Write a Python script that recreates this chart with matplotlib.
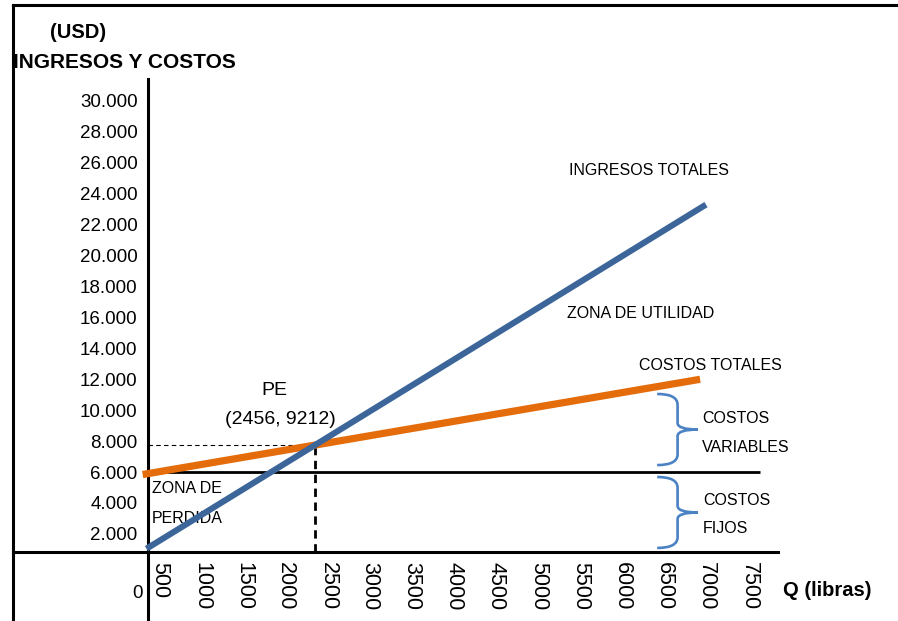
import numpy as np
import matplotlib
matplotlib.use("Agg")
import matplotlib.pyplot as plt
from matplotlib import font_manager
from matplotlib.path import Path
from matplotlib.patches import PathPatch
from matplotlib.lines import Line2D

# --- datos del grafico (punto de equilibrio) ---
q_ingresos = [345, 6990]          # libras
usd_ingresos = [1040, 23300]      # USD
q_costos = [300, 6920]
usd_costos = [5840, 12000]
q_fijos = [363, 7630]
usd_fijos = [6000, 6000]

x_ticks = [500, 1000, 1500, 2000, 2500, 3000, 3500, 4000,
           4500, 5000, 5500, 6000, 6500, 7000, 7500]
y_ticks = [2000, 4000, 6000, 8000, 10000, 12000, 14000, 16000,
           18000, 20000, 22000, 24000, 26000, 28000, 30000]
y_labels = ["2.000", "4.000", "6.000", "8.000", "10.000", "12.000", "14.000",
            "16.000", "18.000", "20.000", "22.000", "24.000", "26.000",
            "28.000", "30.000"]

# llaves de costos variables / fijos: (q, usd_inferior, usd_superior)
llave_variables = (6410, 6450, 11050)
llave_fijos = (6410, 1090, 5680)

EJE_Q = 363       # posicion del eje vertical
EJE_USD = 860     # posicion del eje horizontal

AZUL = "#3C6699"
NARANJA = "#E46C0A"
AZUL_LLAVE = "#4A82C3"

# fuente angosta tipo Arial Narrow si esta instalada
nombres = {f.name for f in font_manager.fontManager.ttflist}
if "Liberation Sans Narrow" in nombres:
    FUENTE_ANOT, TAM_ANOT = "Liberation Sans Narrow", 14
else:
    FUENTE_ANOT, TAM_ANOT = "Liberation Sans", 11.5
plt.rcParams["font.family"] = ["Liberation Sans", "DejaVu Sans"]

W, H = 898, 621
fig = plt.figure(figsize=(W / 100, H / 100), dpi=100)
ax = fig.add_axes([13 / W, 0, (778 - 13) / W, (621 - 79) / H])
ax.set_xlim(-1240, 7845)
ax.set_ylim(-3635, 31423)

for s in ["top", "right"]:
    ax.spines[s].set_visible(False)
ax.spines["left"].set_position(("data", EJE_Q))
ax.spines["bottom"].set_position(("data", EJE_USD))
for s in ["left", "bottom"]:
    ax.spines[s].set_linewidth(2.2)
    ax.spines[s].set_color("black")

ax.set_xticks(x_ticks)
ax.set_xticklabels([str(v) for v in x_ticks], rotation=-90, fontsize=15.5)
ax.set_yticks(y_ticks)
ax.set_yticklabels(y_labels, fontsize=13.5)
ax.tick_params(axis="both", length=0)
ax.tick_params(axis="x", pad=7.5)
ax.tick_params(axis="y", pad=7.5)
ax.patch.set_visible(False)

# lineas
ax.plot(q_fijos, usd_fijos, color="black", lw=2.0, solid_capstyle="butt", zorder=2)
ax.plot(q_costos, usd_costos, color=NARANJA, lw=5.2, solid_capstyle="butt", zorder=3)
ax.plot(q_ingresos, usd_ingresos, color=AZUL, lw=4.4, solid_capstyle="butt", zorder=4)

# punto de equilibrio = interseccion de ingresos y costos totales
m_i = (usd_ingresos[1] - usd_ingresos[0]) / (q_ingresos[1] - q_ingresos[0])
m_c = (usd_costos[1] - usd_costos[0]) / (q_costos[1] - q_costos[0])
b_i = usd_ingresos[0] - m_i * q_ingresos[0]
b_c = usd_costos[0] - m_c * q_costos[0]
q_pe = (b_c - b_i) / (m_i - m_c)
usd_pe = b_i + m_i * q_pe
ax.plot([EJE_Q, q_pe], [usd_pe, usd_pe], color="black", lw=0.8,
        dashes=(4, 3), zorder=1)
ax.plot([q_pe, q_pe], [EJE_USD, usd_pe], color="black", lw=2.0,
        dashes=(3, 2), zorder=1)


def llave(q, y0, y1, ancho=485, ry=700):
    """Dibuja una llave '}' entre y0 y y1."""
    qm = q + ancho * 0.5
    ym = (y0 + y1) / 2
    verts = [
        (q, y1), (qm, y1), (qm, y1 - ry),
        (qm, ym + ry * 0.6), (qm, ym), (q + ancho, ym),
        (qm, ym), (qm, ym - ry * 0.6),
        (qm, y0 + ry), (qm, y0), (q, y0),
    ]
    codes = [Path.MOVETO, Path.CURVE3, Path.CURVE3,
             Path.LINETO, Path.CURVE3, Path.CURVE3,
             Path.CURVE3, Path.CURVE3,
             Path.LINETO, Path.CURVE3, Path.CURVE3]
    ax.add_patch(PathPatch(Path(verts, codes), fill=False, edgecolor=AZUL_LLAVE,
                           lw=1.9, capstyle="butt", zorder=3))


llave(*llave_variables)
llave(*llave_fijos)

# textos
anot = dict(fontsize=TAM_ANOT, family=[FUENTE_ANOT, "DejaVu Sans"],
            va="baseline", color="black")
ax.text(5363, 25213, "INGRESOS TOTALES", ha="left", **anot)
ax.text(5339, 15964, "ZONA DE UTILIDAD", ha="left", **anot)
ax.text(6194, 12600, "COSTOS TOTALES", ha="left", **anot)
ax.text(6942, 9172, "COSTOS", ha="left", **anot)
ax.text(6942, 7296, "VARIABLES", ha="left", **anot)
ax.text(6954, 3868, "COSTOS", ha="left", **anot)
ax.text(6954, 2057, "FIJOS", ha="left", **anot)
ax.text(411, 4644, "ZONA DE", ha="left", **anot)
ax.text(411, 2704, "PERDIDA", ha="left", **anot)
anot["fontsize"] = 14
ax.text(1860, 10983, "PE", ha="center", **anot)
ax.text(1931, 9107, "(2456, 9212)", ha="center", **anot)

ax.annotate("0", xy=(EJE_Q, EJE_USD), xytext=(-3.6, -29.9),
            textcoords="offset points", ha="right", va="center", fontsize=13.5)

fig.text(78 / W, 1 - 32 / H, "(USD)", ha="center", va="center",
         fontsize=14.5, fontweight="bold")
fig.text(13 / W, 1 - 62 / H, "INGRESOS Y COSTOS", ha="left", va="center",
         fontsize=15, fontweight="bold")
fig.text(783 / W, 1 - 591 / H, "Q (libras)", ha="left", va="center",
         fontsize=14.5, fontweight="bold")

# marco del grafico (superior e izquierdo)
fig.add_artist(Line2D([13 / W, 1], [1 - 5 / H, 1 - 5 / H], color="black",
                      lw=2.2, transform=fig.transFigure))
fig.add_artist(Line2D([13 / W, 13 / W], [0, 1 - 5 / H], color="black",
                      lw=2.2, transform=fig.transFigure))

fig.savefig("out.png", dpi=100)
